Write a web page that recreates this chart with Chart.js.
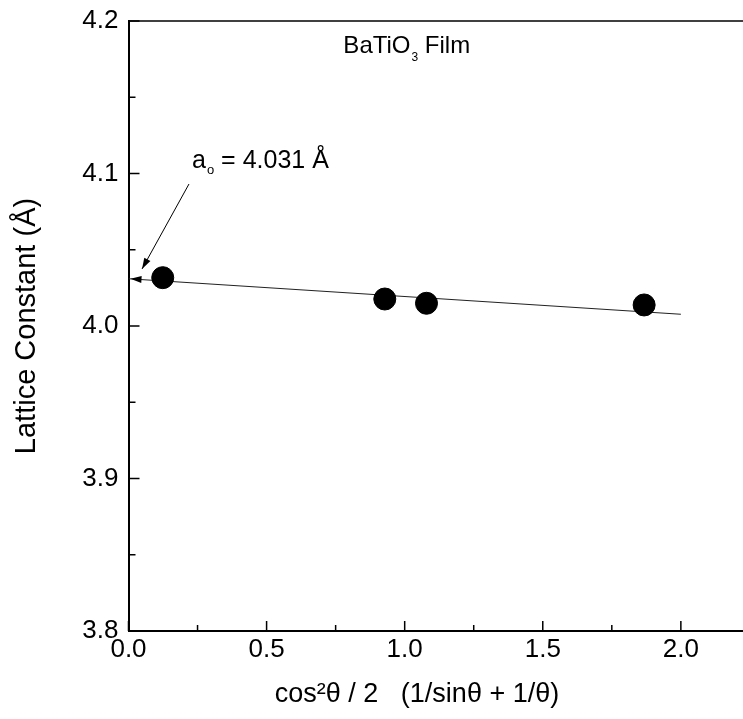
<!DOCTYPE html>
<html><head><meta charset="utf-8">
<script src="https://cdn.jsdelivr.net/npm/chart.js@4.4.0/dist/chart.umd.min.js"></script>
<style>html,body{margin:0;padding:0;background:#fff;overflow:hidden;} #wrap{width:743px;height:719px;position:relative;}</style>
</head><body><div id="wrap"><canvas id="c" width="743" height="719"></canvas></div>
<script>
// ---- data ----
const xValues = [0.124, 0.928, 1.079, 1.867];
const latticeValues = [4.0317, 4.0177, 4.0149, 4.0138];
const fitX = [0.0, 2.0];
const fitY = [4.031, 4.0077];
const xMajorTicks = [0.0, 0.5, 1.0, 1.5, 2.0];
const xMinorTicks = [0.25, 0.75, 1.25, 1.75];
const yMajorTicks = [3.8, 3.9, 4.0, 4.1, 4.2];
const yMinorTicks = [3.85, 3.95, 4.05, 4.15];
const xTitle = 'cos\u00B2\u03B8 / 2   (1/sin\u03B8 + 1/\u03B8)     ';
const yTitle = 'Lattice Constant (\u00C5)';
const filmLabel = ['BaTiO', '3', ' Film'];
const fitLabel = ['a', 'o', ' = 4.031 \u00C5'];

const FONT = '"Liberation Sans", Arial, sans-serif';

const scatterData = xValues.map((x, i) => ({x: x, y: latticeValues[i]}));
const fitData = fitX.map((x, i) => ({x: x, y: fitY[i]}));

function arrowHead(ctx, tx, ty, fx, fy, len, half) {
  const a = Math.atan2(ty - fy, tx - fx);
  ctx.beginPath();
  ctx.moveTo(tx, ty);
  ctx.lineTo(tx - len * Math.cos(a) + half * Math.sin(a), ty - len * Math.sin(a) - half * Math.cos(a));
  ctx.lineTo(tx - len * Math.cos(a) - half * Math.sin(a), ty - len * Math.sin(a) + half * Math.cos(a));
  ctx.closePath();
  ctx.fill();
}

function drawSubText(ctx, parts, x, y, size, subSize, subDrop) {
  ctx.font = size + 'px ' + FONT;
  ctx.fillText(parts[0], x, y);
  let cx = x + ctx.measureText(parts[0]).width + 1;
  ctx.font = subSize + 'px ' + FONT;
  ctx.fillText(parts[1], cx, y + subDrop);
  cx += ctx.measureText(parts[1]).width;
  ctx.font = size + 'px ' + FONT;
  ctx.fillText(parts[2], cx, y);
}

const decor = {
  id: 'decor',
  afterDraw(chart) {
    const ctx = chart.ctx;
    const xs = chart.scales.x, ys = chart.scales.y;
    const ca = chart.chartArea;
    ctx.save();
    ctx.strokeStyle = '#000';
    ctx.fillStyle = '#000';
    // top frame
    ctx.lineWidth = 1.5;
    ctx.beginPath();
    ctx.moveTo(ca.left, ca.top); ctx.lineTo(ca.right, ca.top);
    ctx.stroke();
    // inward ticks
    ctx.lineWidth = 1.5;
    ctx.beginPath();
    yMajorTicks.forEach(v => { const p = ys.getPixelForValue(v); ctx.moveTo(ca.left, p); ctx.lineTo(ca.left + 11, p); });
    yMinorTicks.forEach(v => { const p = ys.getPixelForValue(v); ctx.moveTo(ca.left, p); ctx.lineTo(ca.left + 7, p); });
    xMajorTicks.forEach(v => { const p = xs.getPixelForValue(v); ctx.moveTo(p, ca.bottom); ctx.lineTo(p, ca.bottom - 10); });
    xMinorTicks.forEach(v => { const p = xs.getPixelForValue(v); ctx.moveTo(p, ca.bottom); ctx.lineTo(p, ca.bottom - 6); });
    ctx.stroke();
    // arrowhead at intercept of fit line
    const tx = xs.getPixelForValue(fitX[0]), ty = ys.getPixelForValue(fitY[0]);
    const fx = xs.getPixelForValue(fitX[1]), fy = ys.getPixelForValue(fitY[1]);
    arrowHead(ctx, tx + 2, ty, fx, fy, 11, 3.5);
    // annotation arrow
    const sx = xs.getPixelForValue(0.219), sy = ys.getPixelForValue(4.0931);
    const ex = xs.getPixelForValue(0.049), ey = ys.getPixelForValue(4.0374);
    ctx.lineWidth = 1;
    ctx.beginPath(); ctx.moveTo(sx, sy); ctx.lineTo(ex, ey); ctx.stroke();
    arrowHead(ctx, ex, ey, sx, sy, 11, 3.5);
    // texts
    ctx.textBaseline = 'alphabetic';
    ctx.textAlign = 'left';
    drawSubText(ctx, filmLabel, xs.getPixelForValue(0.778), ys.getPixelForValue(4.1793), 24, 12, 8);
    drawSubText(ctx, fitLabel, xs.getPixelForValue(0.23), ys.getPixelForValue(4.1036), 25, 13, 6);
    ctx.restore();
  }
};

new Chart(document.getElementById('c'), {
  type: 'scatter',
  data: {
    datasets: [
      {
        type: 'line',
        data: fitData,
        borderColor: '#222',
        borderWidth: 1.2,
        pointRadius: 0,
        fill: false,
        order: 2
      },
      {
        type: 'scatter',
        data: scatterData,
        backgroundColor: '#000',
        borderColor: '#000',
        pointRadius: 11,
        pointHoverRadius: 11,
        order: 1
      }
    ]
  },
  plugins: [decor],
  options: {
    responsive: false,
    animation: false,
    events: [],
    layout: { autoPadding: false, padding: { top: 21, right: 0, left: 0, bottom: 0 } },
    plugins: { legend: { display: false }, tooltip: { enabled: false } },
    scales: {
      x: {
        type: 'linear',
        min: 0,
        max: 2.225,
        afterFit(s) { s.height = 88; s.paddingLeft = 0; s.paddingRight = 0; },
        border: { display: true, color: '#000', width: 2 },
        grid: { display: false, drawTicks: false },
        ticks: {
          stepSize: 0.5,
          includeBounds: false,
          padding: 3,
          color: '#000',
          font: { family: FONT, size: 26 },
          maxRotation: 0,
          callback: v => Number(v).toFixed(1)
        },
        title: {
          display: true,
          text: xTitle,
          color: '#000',
          font: { family: FONT, size: 27 },
          padding: { top: 0, bottom: 8 }
        }
      },
      y: {
        type: 'linear',
        min: 3.8,
        max: 4.2,
        afterFit(s) { s.width = 128.5; s.paddingTop = 0; s.paddingBottom = 0; },
        border: { display: true, color: '#000', width: 2 },
        grid: { display: false, drawTicks: false },
        ticks: {
          stepSize: 0.1,
          includeBounds: false,
          padding: 10,
          color: '#000',
          font: { family: FONT, size: 26 },
          callback: v => Number(v).toFixed(1)
        },
        title: {
          display: true,
          text: yTitle,
          color: '#000',
          font: { family: FONT, size: 29 },
          padding: { top: 10, bottom: 0 }
        }
      }
    }
  }
});
</script>
</body></html>
